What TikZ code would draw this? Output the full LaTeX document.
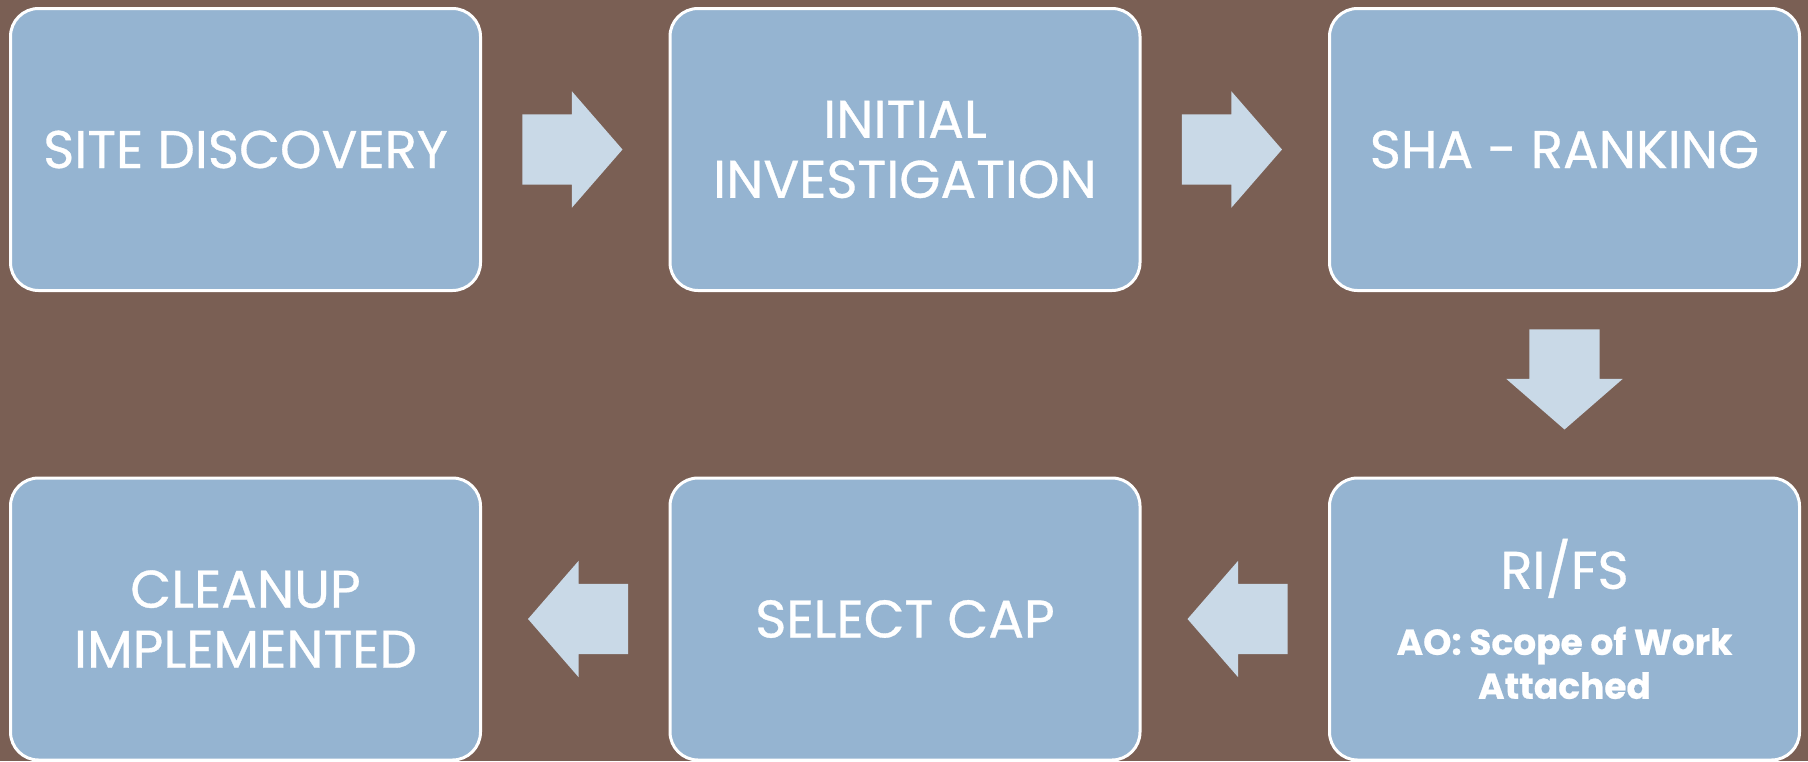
\documentclass[tikz,border=0pt]{standalone}
\usepackage{fontspec}
\setmainfont{Poppins}[FakeBold=0.6]
\usetikzlibrary{shapes.arrows,calc}
\definecolor{bgbrown}{HTML}{7A5F54}
\definecolor{boxblue}{HTML}{95B4D1}
\definecolor{arrowblue}{HTML}{C9D9E7}
\begin{document}
\begin{tikzpicture}[x=1pt,y=-1pt,
        stage/.style={draw=white,line width=3pt,fill=boxblue,rounded corners=28pt,
            minimum width=470pt,minimum height=282pt,inner sep=0pt,
            text=white,align=center,font=\fontsize{53}{60}\selectfont},
        flow/.style={single arrow,fill=arrowblue,minimum height=100pt,
            single arrow head extend=23pt,single arrow tip angle=98,anchor=tip,
            inner xsep=0pt,inner ysep=35pt},
        flowdown/.style={flow,shape border rotate=270,inner xsep=35pt,inner ysep=0pt}]

    % Background
    \fill[bgbrown] (0,0) rectangle (1808,761);
    \useasboundingbox (0,0) rectangle (1808,761);

    % Top row
    \node[stage] (site) at (245.5,149.5) {SITE DISCOVERY};
    \node[stage] (init) at (905,149.5) {INITIAL\\INVESTIGATION};
    \node[stage] (sha)  at (1564.5,149.5) {SHA - RANKING};

    % Bottom row
    \node[stage] (rifs)  at (1564.5,619) {RI/FS\\[6pt]
        \fontsize{36}{44}\selectfont\bfseries AO: Scope of Work\\[-16pt]
        \fontsize{36}{44}\selectfont\bfseries Attached};
    \node[stage] (cap)   at (905,619) {SELECT CAP};
    \node[stage] (clean) at (245.5,619) {CLEANUP\\IMPLEMENTED};

    % Arrows between stages (placed by their tips)
    \node[flow] (a1) at ($(site.east)!0.5!(init.west)+(47.5,0)$) {};
    \node[flow] (a2) at ($(init.east)!0.5!(sha.west)+(47.5,0)$) {};
    \node[flowdown] (a3) at ($(sha.south)!0.5!(rifs.north)+(0,45.5)$) {};
    \node[flow,shape border rotate=180] (a4) at ($(rifs.west)!0.5!(cap.east)+(-47.5,0)$) {};
    \node[flow,shape border rotate=180] (a5) at ($(cap.west)!0.5!(clean.east)+(-47.5,0)$) {};

\end{tikzpicture}
\end{document}
